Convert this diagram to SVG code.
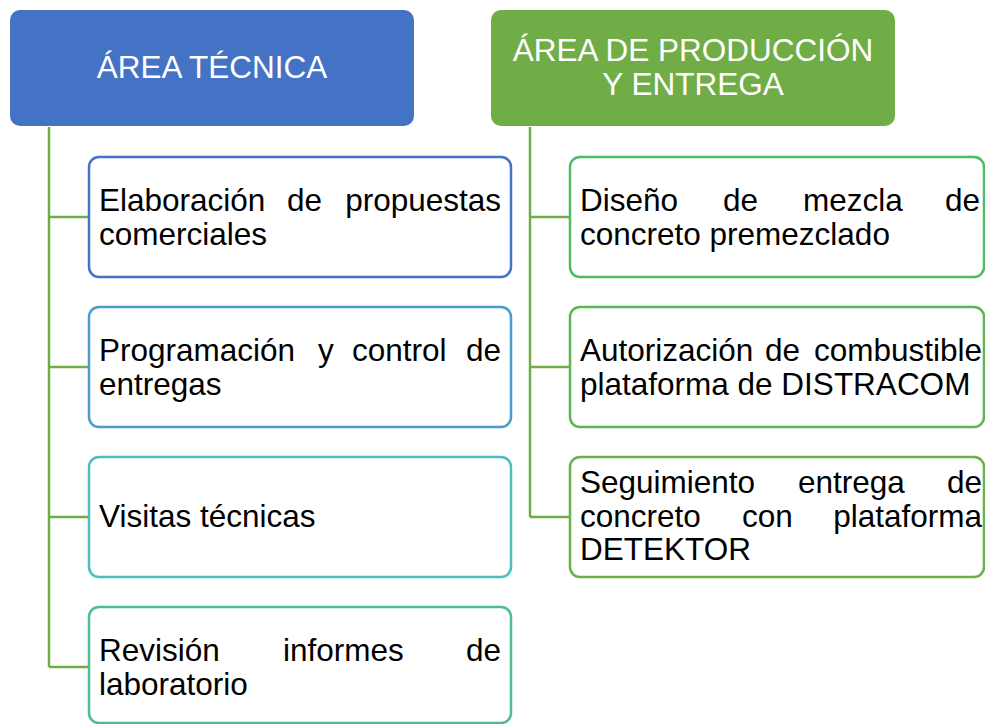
<svg xmlns="http://www.w3.org/2000/svg" width="985" height="724" viewBox="0 0 985 724">
<style>
  .hdr { stroke: none; }
  .box { fill: #ffffff; stroke-width: 2.5; }
  .t { font-family: "Liberation Sans", Arial, sans-serif; font-size: 31.5px; fill: #000000; }
  .ht { font-family: "Liberation Sans", Arial, sans-serif; font-size: 31.5px; fill: #ffffff; text-anchor: middle; }
  .e { text-anchor: end; }
  .conn { fill: none; stroke: #70AD47; stroke-width: 2.5; }
</style>
<rect width="985" height="724" fill="#ffffff"/>
<g id="connectors">
  <path class="conn" d="M49,127 V667 M49,217 H89 M49,367 H89 M49,517 H89 M49,667 H89"/>
  <path class="conn" d="M530,127 V517 M530,217 H570 M530,367 H570 M530,517 H570"/>
</g>
<g id="area-tecnica">
  <rect class="hdr" x="10" y="10" width="404" height="116" rx="10" fill="#4472C4"/>
  <text class="ht" x="212" y="78">ÁREA TÉCNICA</text>
</g>
<g id="area-produccion">
  <rect class="hdr" x="491" y="10" width="404" height="116" rx="10" fill="#70AD47"/>
  <text class="ht" x="693" y="61">ÁREA DE PRODUCCIÓN</text>
  <text class="ht" x="693" y="95">Y ENTREGA</text>
</g>
<g id="elaboracion">
  <rect class="box" x="89" y="157" width="422" height="120" rx="10" stroke="#4472C4"/>
  <text class="t" x="99" y="211">Elaboración</text>
  <text class="t" x="287" y="211">de</text>
  <text class="t e" x="501" y="211">propuestas</text>
  <text class="t" x="99" y="245">comerciales</text>
</g>
<g id="programacion">
  <rect class="box" x="89" y="307" width="422" height="120" rx="10" stroke="#4A9DC9"/>
  <text class="t" x="99" y="361">Programación</text>
  <text class="t" x="318" y="361">y</text>
  <text class="t" x="352" y="361">control</text>
  <text class="t e" x="501" y="361">de</text>
  <text class="t" x="99" y="395">entregas</text>
</g>
<g id="visitas">
  <rect class="box" x="89" y="457" width="422" height="120" rx="10" stroke="#4BBFBF"/>
  <text class="t" x="99" y="527">Visitas técnicas</text>
</g>
<g id="revision">
  <rect class="box" x="89" y="607" width="422" height="116" rx="10" stroke="#4BBE8C"/>
  <text class="t" x="99" y="661">Revisión</text>
  <text class="t" x="283" y="661">informes</text>
  <text class="t e" x="501" y="661">de</text>
  <text class="t" x="99" y="695">laboratorio</text>
</g>
<g id="diseno">
  <rect class="box" x="570" y="157" width="414" height="120" rx="10" stroke="#4DBB68"/>
  <text class="t" x="580" y="211">Diseño</text>
  <text class="t" x="723" y="211">de</text>
  <text class="t" x="803" y="211">mezcla</text>
  <text class="t e" x="980" y="211">de</text>
  <text class="t" x="580" y="245">concreto premezclado</text>
</g>
<g id="autorizacion">
  <rect class="box" x="570" y="307" width="414" height="120" rx="10" stroke="#5EB553"/>
  <text class="t" x="580" y="361">Autorización</text>
  <text class="t" x="765" y="361">de</text>
  <text class="t e" x="982" y="361">combustible</text>
  <text class="t" x="580" y="395">plataforma de DISTRACOM</text>
</g>
<g id="seguimiento">
  <rect class="box" x="570" y="457" width="414" height="120" rx="10" stroke="#6CB04A"/>
  <text class="t" x="580" y="493">Seguimiento</text>
  <text class="t" x="798" y="493">entrega</text>
  <text class="t e" x="982" y="493">de</text>
  <text class="t" x="580" y="527">concreto</text>
  <text class="t" x="742" y="527">con</text>
  <text class="t e" x="982" y="527">plataforma</text>
  <text class="t" x="580" y="560">DETEKTOR</text>
</g>
</svg>
